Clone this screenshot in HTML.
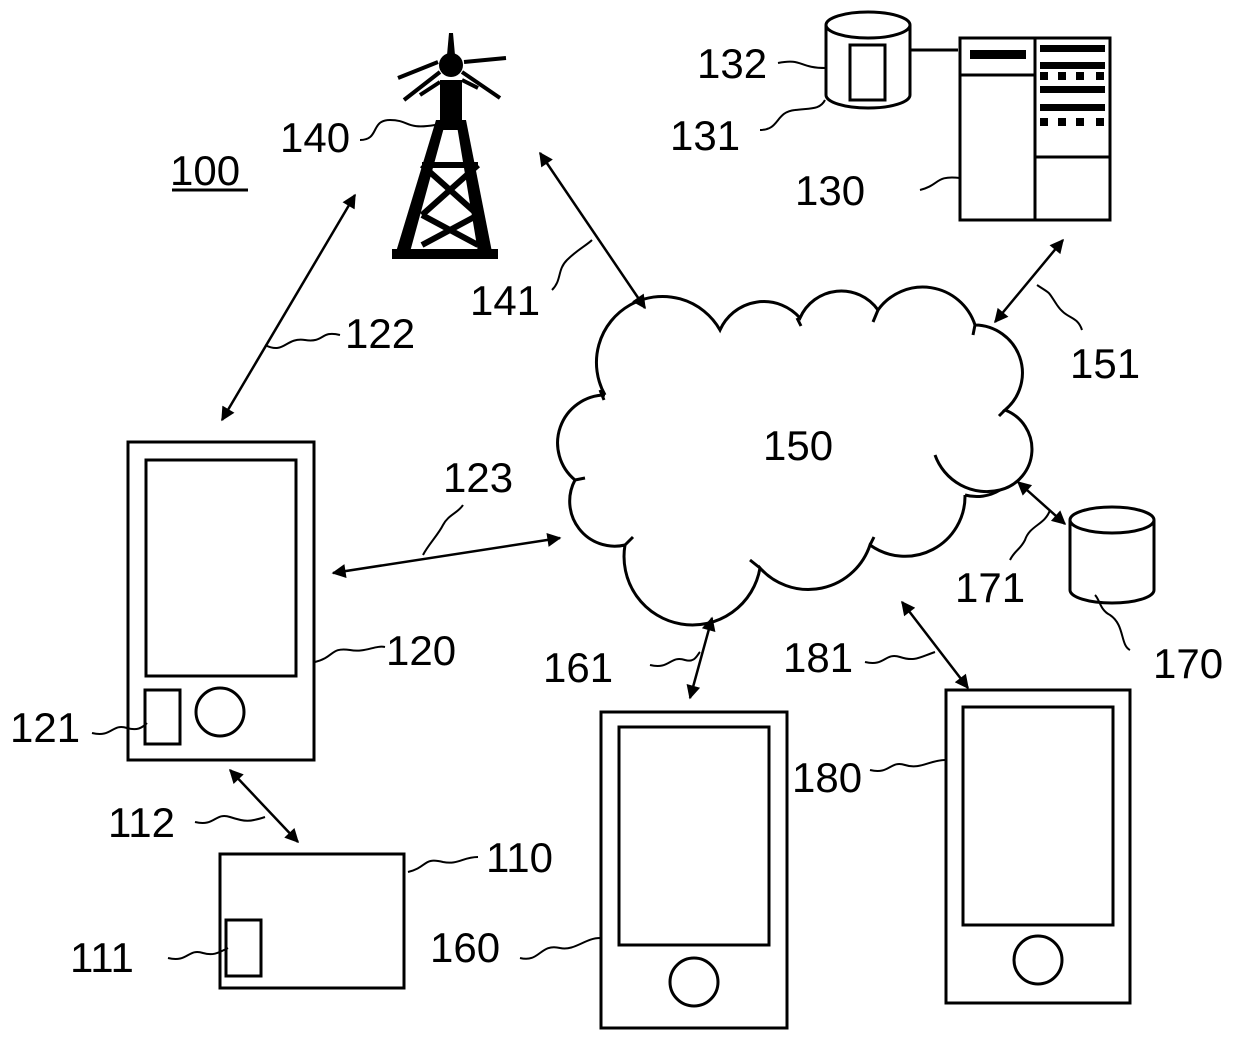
<!DOCTYPE html>
<html><head><meta charset="utf-8"><style>
body{margin:0;background:#fff}
svg text{font-family:"Liberation Sans",sans-serif;font-size:42px;fill:#000}
</style></head><body>
<svg width="1240" height="1049" viewBox="0 0 1240 1049" xmlns="http://www.w3.org/2000/svg">
<defs>
<marker id="b" viewBox="0 0 10 10" refX="9" refY="5" markerWidth="16" markerHeight="14" orient="auto-start-reverse" markerUnits="userSpaceOnUse"><path d="M0,0 L10,5 L0,10 z" fill="#000"/></marker>
</defs>
<g fill="none" stroke="#000" stroke-width="3">
<line x1="172" y1="190" x2="248" y2="190"/>
<g fill="#000" stroke="none">
<polygon points="436,120 446,120 410,252 396,252"/>
<polygon points="456,120 466,120 492,252 478,252"/>
<rect x="440" y="80" width="22" height="50"/>
<circle cx="451" cy="65" r="12"/>
<polygon points="449,33 453,33 455,55 447,55"/>
<rect x="392" y="249" width="106" height="10"/>
</g>
<path d="M404,100 L440,72 M398,78 L438,62 M420,95 L440,82 M500,98 L462,72 M506,58 L464,62 M478,88 L462,80" stroke-width="4"/>
<path d="M422,165 L478,165 M422,165 L478,215 M478,165 L422,215 M422,215 L478,245 M478,215 L422,245" stroke-width="6"/>
<path d="M826,25 v70 a42,13 0 0 0 84,0 v-70"/>
<ellipse cx="868" cy="25" rx="42" ry="13"/>
<rect x="850" y="45" width="35" height="55"/>
<line x1="910" y1="50" x2="958" y2="50"/>
<rect x="960" y="38" width="150" height="182"/>
<line x1="1035" y1="38" x2="1035" y2="220"/>
<line x1="960" y1="75" x2="1035" y2="75"/>
<line x1="1035" y1="157" x2="1110" y2="157"/>
<g fill="#000" stroke="none">
<rect x="970" y="50" width="56" height="9"/>
<rect x="1040" y="45" width="65" height="7"/>
<rect x="1040" y="62" width="65" height="7"/>
<rect x="1040" y="86" width="65" height="7"/>
<rect x="1040" y="104" width="65" height="7"/>
<rect x="1040" y="72" width="8" height="8"/><rect x="1058" y="72" width="8" height="8"/><rect x="1076" y="72" width="8" height="8"/><rect x="1096" y="72" width="8" height="8"/>
<rect x="1040" y="118" width="8" height="8"/><rect x="1058" y="118" width="8" height="8"/><rect x="1076" y="118" width="8" height="8"/><rect x="1096" y="118" width="8" height="8"/>
</g>
<path d="M605,395 A62,62 0 0 1 720,330 A48,48 0 0 1 800,318 A45,45 0 0 1 878,310 A55,55 0 0 1 975,325 A48,48 0 0 1 1005,410 A42,42 0 0 1 1000,490 A55,55 0 0 1 935,455 M965,495 A60,60 0 0 1 870,545 A65,65 0 0 1 760,568 A60,60 0 0 1 625,545 A45,45 0 0 1 575,480 A48,48 0 0 1 605,395"/>
<path d="M965,495 A45,45 0 0 0 1000,490"/>
<path d="M600,390 l4,10 M797,318 l4,8 M878,310 l-5,12 M975,325 l-2,10 M1005,410 l-6,6 M625,545 l8,-8 M760,568 l-10,-8 M870,545 l4,-8 M575,480 l10,-2"/>
<path d="M1070,520 v70 a42,13 0 0 0 84,0 v-70"/>
<ellipse cx="1112" cy="520" rx="42" ry="13"/>
<rect x="128" y="442" width="186" height="318"/>
<rect x="146" y="460" width="150" height="216"/>
<rect x="145" y="690" width="35" height="54"/>
<circle cx="220" cy="712" r="24"/>
<rect x="220" y="854" width="184" height="134"/>
<rect x="226" y="920" width="35" height="56"/>
<rect x="601" y="712" width="186" height="316"/>
<rect x="619" y="727" width="150" height="218"/>
<circle cx="694" cy="982" r="24"/>
<rect x="946" y="690" width="184" height="313"/>
<rect x="963" y="707" width="150" height="218"/>
<circle cx="1038" cy="960" r="24"/>
<g stroke-width="2.5">
<line x1="355" y1="195" x2="222" y2="420" marker-start="url(#b)" marker-end="url(#b)"/>
<line x1="540" y1="153" x2="645" y2="308" marker-start="url(#b)" marker-end="url(#b)"/>
<line x1="333" y1="573" x2="560" y2="538" marker-start="url(#b)" marker-end="url(#b)"/>
<line x1="1063" y1="240" x2="995" y2="322" marker-start="url(#b)" marker-end="url(#b)"/>
<line x1="1018" y1="482" x2="1065" y2="524" marker-start="url(#b)" marker-end="url(#b)"/>
<line x1="712" y1="618" x2="690" y2="698" marker-start="url(#b)" marker-end="url(#b)"/>
<line x1="902" y1="602" x2="968" y2="688" marker-start="url(#b)" marker-end="url(#b)"/>
<line x1="230" y1="770" x2="298" y2="842" marker-start="url(#b)" marker-end="url(#b)"/>
</g>
<g stroke-width="2">
<path d="M360,140 c20,0 10,-20 30,-20 c20,0 15,10 45,5"/>
<path d="M778,63 c25,-5 20,5 48,5"/>
<path d="M760,130 c20,0 15,-18 35,-20 c15,-2 25,0 30,-10"/>
<path d="M920,190 c20,-5 15,-15 40,-12"/>
<path d="M265,345 c20,10 20,-8 40,-5 c20,3 15,-10 35,-5"/>
<path d="M552,290 c10,-10 5,-20 15,-30 c10,-10 20,-15 25,-20"/>
<path d="M423,555 c5,-10 15,-20 20,-30 c5,-10 15,-12 20,-20"/>
<path d="M315,662 c20,-5 15,-15 35,-12 c15,3 25,-5 35,-3"/>
<path d="M92,733 c20,5 20,-10 35,-5 c10,3 15,0 20,-5"/>
<path d="M195,822 c20,5 20,-10 35,-5 c15,5 20,5 35,0"/>
<path d="M408,872 c20,-5 15,-15 35,-10 c15,3 20,-5 35,-5"/>
<path d="M168,958 c20,5 20,-10 35,-5 c10,3 15,0 25,-5"/>
<path d="M520,958 c20,5 20,-15 40,-10 c15,3 25,-10 40,-10"/>
<path d="M650,665 c20,5 20,-10 35,-5 c10,3 12,-5 15,-8"/>
<path d="M870,770 c20,5 20,-10 35,-5 c15,5 25,-5 40,-5"/>
<path d="M865,662 c20,5 20,-10 35,-5 c15,5 20,0 35,-5"/>
<path d="M1010,560 c5,-10 10,-10 15,-20 c5,-15 20,-15 25,-30"/>
<path d="M1082,330 c-5,-15 -15,-10 -25,-25 c-10,-15 -5,-10 -20,-20"/>
<path d="M1130,650 c-10,-5 -5,-25 -20,-35 c-10,-5 -10,-15 -15,-20"/>
</g>
</g>
<text x="170" y="185">100</text>
<text x="280" y="152">140</text>
<text x="697" y="78">132</text>
<text x="670" y="150">131</text>
<text x="795" y="205">130</text>
<text x="345" y="348">122</text>
<text x="470" y="315">141</text>
<text x="1070" y="378">151</text>
<text x="763" y="460">150</text>
<text x="443" y="492">123</text>
<text x="386" y="665">120</text>
<text x="955" y="602">171</text>
<text x="1153" y="678">170</text>
<text x="543" y="682">161</text>
<text x="783" y="672">181</text>
<text x="10" y="742">121</text>
<text x="792" y="792">180</text>
<text x="108" y="837">112</text>
<text x="486" y="872">110</text>
<text x="430" y="962">160</text>
<text x="70" y="972">111</text>
</svg>
</body></html>
